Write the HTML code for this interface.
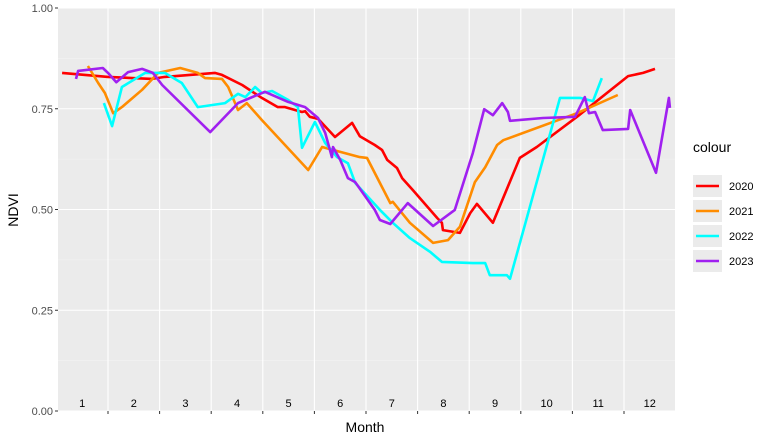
<!DOCTYPE html>
<html><head><meta charset="utf-8"><style>
body{margin:0;background:#fff;}
svg{display:block;font-family:"Liberation Sans",Arial,sans-serif;}
</style></head><body>
<svg id="chart" width="773" height="442">
<rect x="58" y="8" width="617" height="403" fill="#ebebeb"/>
<g id="grid"></g><g id="series"></g><g id="axes"></g>
<text x="365" y="432" font-size="14" text-anchor="middle" fill="#000">Month</text>
<text transform="translate(18,210) rotate(-90)" font-size="14" text-anchor="middle" fill="#000">NDVI</text>
<g id="legend">
<text x="693" y="152" font-size="14" fill="#000">colour</text>
</g>
</svg>
<script>
const months=["1","2","3","4","5","6","7","8","9","10","11","12"];
const yTicks=[0,0.25,0.5,0.75,1];
const yTickLabels=["0.00","0.25","0.50","0.75","1.00"];
const seriesNames=["2020","2021","2022","2023"];
const seriesColors=["#ff0000","#ff8c00","#00ffff","#a020f0"];
const t2020=[1.11,2.0,2.85,3.10,4.07,4.21,4.60,4.98,5.29,5.43,5.76,5.82,5.91,6.07,6.40,6.73,6.88,7.17,7.31,7.41,7.60,7.70,7.91,8.38,8.47,8.49,8.82,9.02,9.15,9.46,9.98,10.31,11.09,12.08,12.37,12.60];
const v2020=[.839,.829,.824,.829,.839,.834,.809,.777,.754,.754,.742,.744,.730,.725,.680,.715,.682,.660,.648,.623,.603,.578,.548,.479,.467,.449,.442,.491,.514,.467,.628,.655,.730,.831,.839,.849];
const t2021=[1.61,1.81,1.94,2.10,2.27,2.66,2.97,3.40,3.74,3.88,4.21,4.33,4.52,4.69,4.98,5.88,6.15,6.88,7.02,7.47,7.52,7.85,8.30,8.59,8.82,9.11,9.31,9.54,9.66,11.09,11.88];
const v2021=[.856,.814,.789,.739,.754,.797,.839,.851,.839,.826,.824,.804,.747,.764,.722,.598,.655,.630,.628,.516,.519,.467,.417,.424,.457,.568,.605,.660,.672,.739,.784];
const t2022=[1.92,2.08,2.27,2.72,3.10,3.43,3.74,4.27,4.52,4.66,4.85,4.98,5.18,5.49,5.68,5.76,6.01,6.21,6.44,6.65,6.79,7.04,7.27,7.52,7.85,8.24,8.47,9.07,9.31,9.40,9.73,9.79,10.76,11.15,11.40,11.57];
const v2022=[.764,.707,.804,.839,.839,.814,.754,.764,.787,.779,.804,.789,.794,.772,.754,.653,.717,.665,.630,.615,.566,.531,.499,.467,.429,.395,.370,.367,.367,.337,.337,.328,.777,.777,.769,.826];
const t2023=[1.38,1.42,1.90,2.0,2.16,2.39,2.66,2.87,3.05,3.98,4.52,5.04,5.49,5.82,6.07,6.21,6.34,6.36,6.50,6.65,6.79,7.17,7.27,7.47,7.81,8.30,8.72,9.07,9.29,9.46,9.64,9.75,9.79,10.43,11.05,11.24,11.32,11.44,11.59,12.08,12.12,12.62,12.87,12.89];
const v2023=[.824,.844,.851,.839,.816,.841,.849,.839,.809,.692,.764,.792,.767,.754,.727,.690,.630,.655,.623,.578,.568,.499,.474,.464,.516,.459,.499,.640,.749,.734,.764,.742,.720,.727,.730,.779,.739,.742,.697,.700,.747,.591,.777,.752];
const seriesT=[t2020,t2021,t2022,t2023];
const seriesV=[v2020,v2021,v2022,v2023];

const NS="http://www.w3.org/2000/svg";
const X0=58,X1=675,Y0=411,Y1=8;
function xs(t){return 108+(t-2)*51.6;}
function ys(v){return Y0-v*(Y0-Y1);}
function mk(tag,attrs,parent){const e=document.createElementNS(NS,tag);for(const k in attrs)e.setAttribute(k,attrs[k]);parent.appendChild(e);return e;}
const grid=document.getElementById('grid'),axes=document.getElementById('axes'),ser=document.getElementById('series'),leg=document.getElementById('legend');
// minor y grid
for(let i=0;i<yTicks.length-1;i++){
  const l=mk('line',{x1:X0,x2:X1,y1:ys((yTicks[i]+yTicks[i+1])/2),y2:ys((yTicks[i]+yTicks[i+1])/2),stroke:'#f5f5f5','stroke-width':0.6},grid);
  
  
}
yTicks.forEach((v,i)=>{
  const l=mk('line',{x1:X0,x2:X1,y1:ys(v),y2:ys(v),stroke:'#fff','stroke-width':1.1},grid);
  
  
  const tk=mk('line',{x1:X0-3,x2:X0,y1:ys(v),y2:ys(v),stroke:'#333','stroke-width':1},axes);
  
  
  const tx=mk('text',{x:X0-5,y:ys(v)+4,'font-size':11,'text-anchor':'end',fill:'#4d4d4d'},axes);
  tx.textContent=yTickLabels[i];
  
  
});
months.forEach((m,i)=>{
  const b=i+2;
  if(b<=12){
    const l=mk('line',{x1:xs(b),x2:xs(b),y1:Y1,y2:Y0,stroke:'#fff','stroke-width':1.1},grid);
    
    
    const tk=mk('line',{x1:xs(b),x2:xs(b),y1:Y0,y2:Y0+3,stroke:'#333','stroke-width':1},axes);
    
    
  }
  const tx=mk('text',{x:xs(i+1.5),y:407,'font-size':11,'text-anchor':'middle',fill:'#000'},axes);
  tx.textContent=m;
  
  
});
seriesNames.forEach((n,s)=>{
  const pts=seriesT[s].map((t,i)=>xs(t).toFixed(1)+','+ys(seriesV[s][i]).toFixed(1)).join(' ');
  const p=mk('polyline',{points:pts,fill:'none',stroke:seriesColors[s],'stroke-width':2.6,'stroke-linejoin':'round'},ser);
  
  
  const y=186+s*25;
  const bg=mk('rect',{x:693,y:y-11,width:29,height:22,fill:'#ebebeb'},leg);
  
  
  const ll=mk('line',{x1:696,x2:719,y1:y,y2:y,stroke:seriesColors[s],'stroke-width':2.6},leg);
  
  
  const lt=mk('text',{x:729,y:y+4,'font-size':11,fill:'#000'},leg);
  lt.textContent=n;
  
  
});
</script>
</body></html>
